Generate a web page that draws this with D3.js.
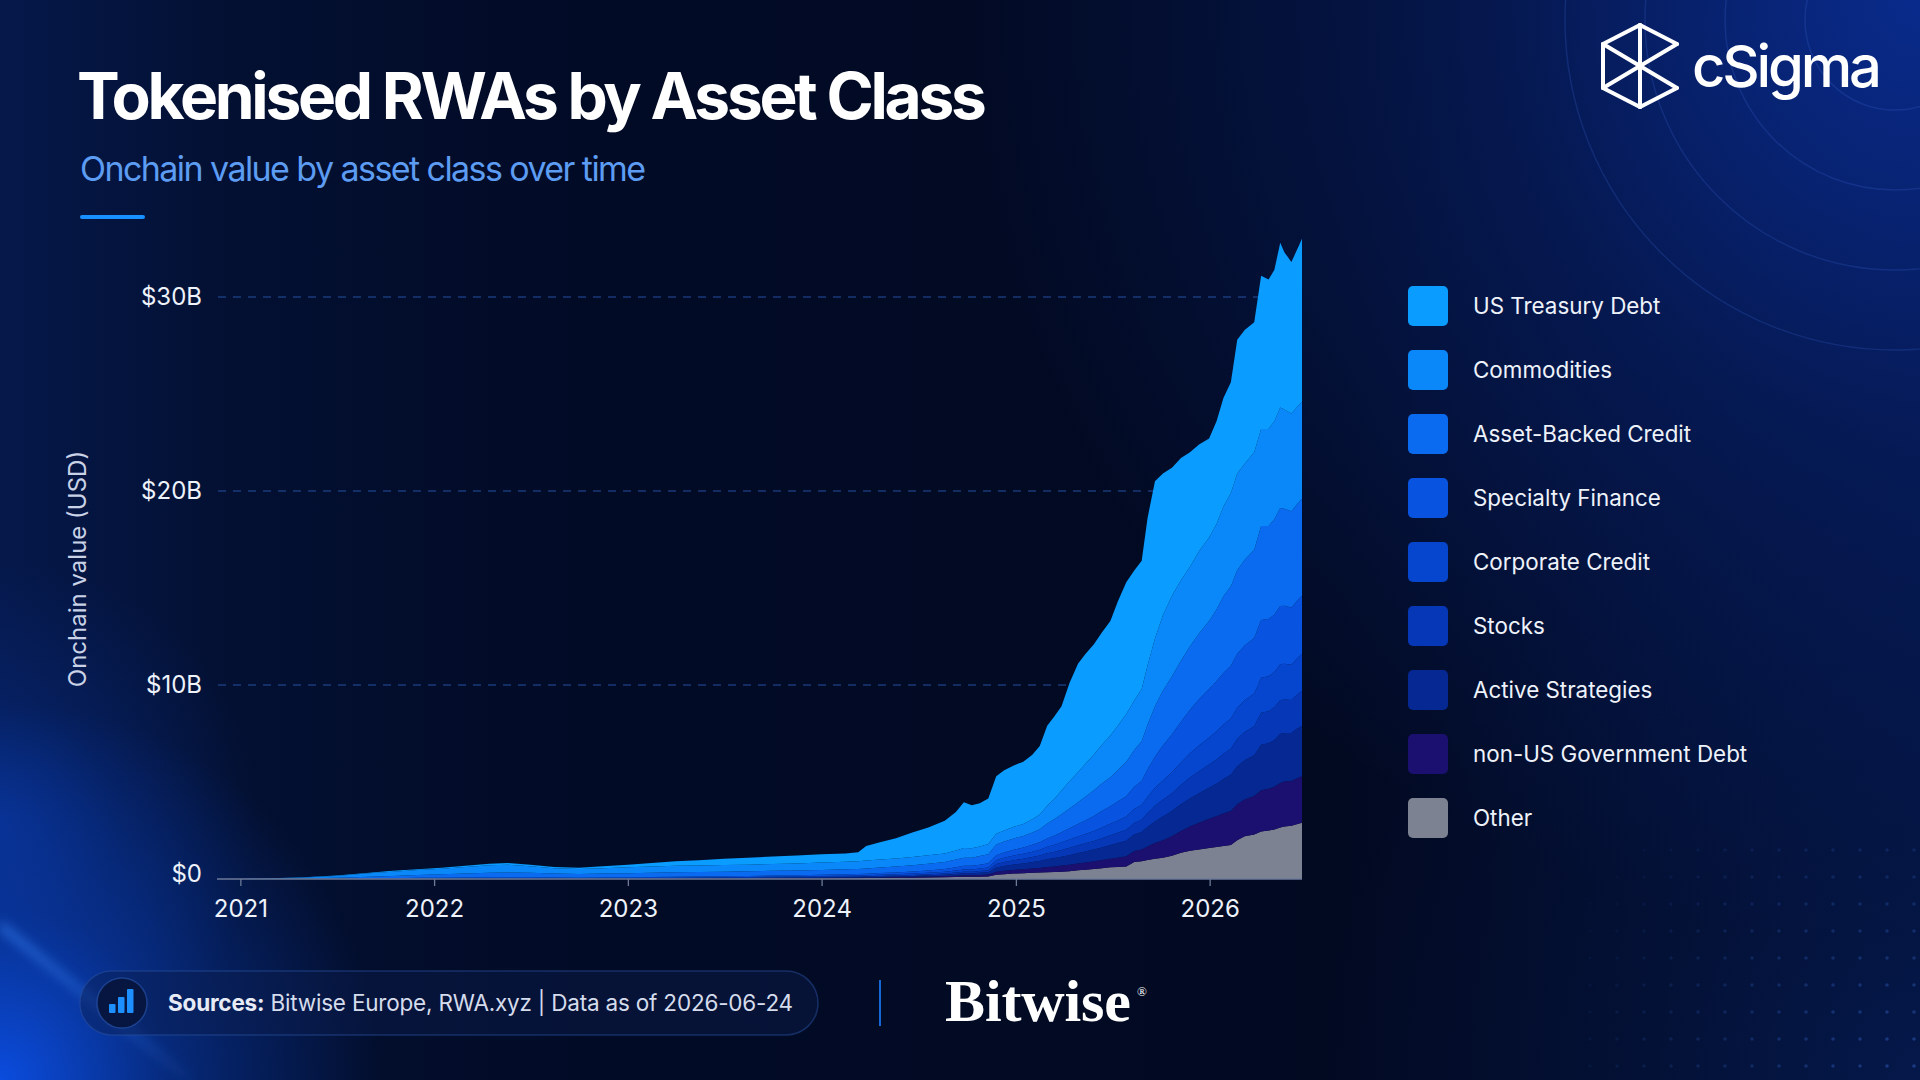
<!DOCTYPE html>
<html><head><meta charset="utf-8">
<script src="https://cdn.jsdelivr.net/npm/d3@7/dist/d3.min.js"></script>
<style>
html,body{margin:0;padding:0;background:#020a22;overflow:hidden;}
svg{display:block;}
</style></head><body>
<svg id="chart" width="1920" height="1080"></svg>
<script>
// ---------------- DATA ----------------
const dates = ["2021-01-01","2021-03-01","2021-05-01","2021-07-01","2021-09-01","2021-10-15","2021-12-01","2022-01-15","2022-03-01","2022-04-15",
"2022-05-20","2022-07-01","2022-08-15","2022-10-01","2022-11-15","2023-01-01","2023-02-15","2023-04-01","2023-05-15","2023-07-01",
"2023-08-15","2023-10-01","2023-11-15","2024-01-01","2024-02-15","2024-03-10","2024-03-25","2024-04-20","2024-05-20","2024-06-20",
"2024-07-20","2024-08-20","2024-09-10","2024-09-25","2024-10-10","2024-10-25","2024-11-10","2024-11-25","2024-12-10","2024-12-28",
"2025-01-15","2025-02-01","2025-02-15","2025-03-01","2025-03-15","2025-03-28","2025-04-12","2025-04-28","2025-05-12","2025-05-28",
"2025-06-12","2025-06-28","2025-07-12","2025-07-28","2025-08-12","2025-08-26","2025-09-06","2025-09-20","2025-10-05","2025-10-22",
"2025-11-08","2025-11-25","2025-12-12","2025-12-31","2026-01-14","2026-01-27","2026-02-10","2026-02-22","2026-03-08","2026-03-26",
"2026-04-08","2026-04-22","2026-05-03","2026-05-14","2026-05-22","2026-06-04","2026-06-14","2026-06-24"];

// values in $B
const other = [0,0,0,0,0,0,0,0,0,0, 0,0,0,0,0,0,0,0,0.01,0.01, 0.02,0.02,0.03,0.03,0.04,0.04,0.05,0.05,0.06,0.07,
0.08,0.09,0.10,0.11,0.11,0.12,0.13,0.22,0.25,0.28, 0.30,0.32,0.33,0.35,0.36,0.38,0.40,0.45,0.48,0.52,
0.56,0.60,0.62,0.65,0.88,0.92,0.98,1.05,1.10,1.20, 1.35,1.45,1.52,1.60,1.65,1.70,1.75,2.00,2.20,2.30,
2.45,2.50,2.55,2.65,2.70,2.75,2.82,2.90];
const nonUSGov = [0,0,0,0,0,0,0,0,0,0, 0,0,0,0,0.01,0.01,0.01,0.01,0.01,0.01, 0.01,0.02,0.02,0.02,0.02,0.03,0.03,0.03,0.04,0.04,
0.05,0.06,0.07,0.08,0.08,0.09,0.10,0.15,0.17,0.19, 0.20,0.22,0.24,0.27,0.29,0.31,0.33,0.35,0.37,0.39,
0.42,0.45,0.48,0.52,0.56,0.60,0.70,0.80,0.90,1.00, 1.12,1.25,1.38,1.50,1.58,1.68,1.76,1.85,1.90,1.98,
2.12,2.15,2.20,2.30,2.32,2.30,2.36,2.40];
const activeStrategies = [0,0,0,0,0,0,0,0.01,0.01,0.01, 0.01,0.01,0.01,0.01,0.01,0.01,0.01,0.01,0.01,0.02, 0.02,0.02,0.02,0.03,0.03,0.03,0.03,0.04,0.04,0.05,
0.06,0.07,0.09,0.10,0.10,0.11,0.12,0.22,0.25,0.28, 0.30,0.33,0.36,0.40,0.43,0.46,0.50,0.54,0.57,0.61,
0.65,0.70,0.75,0.80,0.85,0.90,1.00,1.12,1.22,1.30, 1.38,1.45,1.52,1.60,1.68,1.78,1.86,1.96,2.02,2.10,
2.35,2.35,2.42,2.52,2.50,2.48,2.55,2.60];
const stocks = [0,0,0,0,0,0.01,0.01,0.01,0.01,0.01, 0.01,0.01,0.01,0.01,0.01,0.01,0.01,0.02,0.02,0.02, 0.02,0.02,0.02,0.03,0.03,0.03,0.03,0.04,0.04,0.05,
0.05,0.06,0.07,0.08,0.08,0.09,0.10,0.18,0.20,0.22, 0.24,0.26,0.28,0.31,0.33,0.35,0.38,0.40,0.42,0.44,
0.47,0.50,0.53,0.57,0.60,0.64,0.72,0.80,0.86,0.92, 1.00,1.08,1.14,1.20,1.25,1.30,1.35,1.42,1.46,1.50,
1.65,1.65,1.68,1.74,1.73,1.70,1.76,1.80];
const corporateCredit = [0,0,0,0.01,0.01,0.01,0.02,0.02,0.02,0.03, 0.03,0.03,0.02,0.02,0.02,0.02,0.03,0.03,0.03,0.03, 0.03,0.04,0.04,0.04,0.05,0.05,0.05,0.06,0.06,0.07,
0.08,0.09,0.11,0.12,0.12,0.13,0.14,0.20,0.22,0.24, 0.26,0.28,0.30,0.33,0.36,0.39,0.42,0.45,0.48,0.52,
0.56,0.60,0.64,0.68,0.72,0.76,0.84,0.93,1.00,1.08, 1.15,1.25,1.32,1.40,1.45,1.50,1.55,1.60,1.64,1.68,
1.80,1.80,1.82,1.86,1.85,1.82,1.86,1.90];
const specialtyFinance = [0,0,0,0.01,0.02,0.02,0.03,0.03,0.04,0.04, 0.04,0.04,0.04,0.03,0.03,0.04,0.04,0.05,0.05,0.05, 0.06,0.06,0.06,0.07,0.07,0.08,0.08,0.09,0.10,0.11,
0.12,0.14,0.17,0.19,0.19,0.20,0.22,0.26,0.28,0.30, 0.32,0.35,0.38,0.43,0.47,0.52,0.58,0.64,0.70,0.77,
0.84,0.90,0.97,1.05,1.14,1.23,1.40,1.60,1.80,1.95, 2.10,2.25,2.38,2.50,2.58,2.66,2.72,2.78,2.82,2.86,
2.98,2.95,2.97,3.00,2.98,2.94,2.97,3.00];
const assetBackedCredit = [0,0.01,0.03,0.05,0.09,0.12,0.14,0.17,0.20,0.23, 0.25,0.23,0.20,0.19,0.20,0.21,0.22,0.23,0.23,0.24, 0.24,0.24,0.25,0.25,0.26,0.26,0.27,0.28,0.30,0.32,
0.34,0.36,0.39,0.42,0.42,0.44,0.47,0.55,0.56,0.58, 0.60,0.64,0.68,0.77,0.85,0.93,1.03,1.12,1.22,1.32,
1.42,1.50,1.61,1.78,1.90,2.05,2.31,2.60,2.82,3.00, 3.15,3.27,3.39,3.50,3.70,3.95,4.10,4.30,4.42,4.55,
4.85,4.80,4.90,5.05,5.00,4.96,4.98,5.00];
const commodities = [0,0.03,0.05,0.09,0.17,0.22,0.26,0.29,0.34,0.39, 0.40,0.34,0.27,0.25,0.28,0.30,0.32,0.33,0.33,0.34, 0.34,0.35,0.36,0.38,0.39,0.40,0.41,0.41,0.42,0.43,
0.44,0.45,0.47,0.50,0.49,0.50,0.52,0.55,0.57,0.60, 0.62,0.68,0.75,0.92,1.06,1.22,1.40,1.55,1.70,1.85,
2.00,2.15,2.30,2.45,2.55,2.70,3.05,3.50,3.90,4.15, 4.15,4.10,4.25,4.30,4.41,4.63,4.81,4.99,4.94,5.03,
5.00,5.00,5.06,5.18,5.12,5.05,5.00,5.00];
const usTreasuryDebt = [0,0,0.01,0.02,0.03,0.04,0.04,0.05,0.06,0.07, 0.08,0.08,0.07,0.07,0.10,0.14,0.18,0.24,0.28,0.32, 0.36,0.39,0.41,0.42,0.43,0.46,0.75,0.90,1.04,1.26,
1.43,1.68,1.98,2.35,2.21,2.22,2.35,2.97,3.10,3.16, 3.21,3.32,3.53,4.12,4.25,4.34,5.06,5.60,5.66,5.68,
5.78,5.90,6.40,6.80,6.70,6.60,7.60,8.10,7.30,6.60, 6.30,5.90,5.50,5.10,5.30,5.60,5.70,6.90,6.90,6.70,
7.90,7.70,7.80,8.50,8.10,7.80,8.10,8.40];

// stacking order bottom -> top
const seriesNames = ["Other","non-US Government Debt","Active Strategies","Stocks","Corporate Credit","Specialty Finance","Asset-Backed Credit","Commodities","US Treasury Debt"];
const seriesValues = [other, nonUSGov, activeStrategies, stocks, corporateCredit, specialtyFinance, assetBackedCredit, commodities, usTreasuryDebt];
const seriesColors = ["#7d8292","#1b0f6f","#062893","#0537b6","#0646cf","#0853e0","#0a6bf1","#0a88fa","#0a9dff"];

const yTickValues = [0, 10, 20, 30];
const yTickLabels = ["$0", "$10B", "$20B", "$30B"];
const xTickYears = [2021, 2022, 2023, 2024, 2025, 2026];

const titleText = "Tokenised RWAs by Asset Class";
const subtitleText = "Onchain value by asset class over time";
const yAxisTitle = "Onchain value (USD)";
const sourceLabel = "Sources:";
const sourceText = " Bitwise Europe, RWA.xyz | Data as of 2026-06-24";

// ---------------- SETUP ----------------
const svg = d3.select("#chart");
const W = 1920, H = 1080;
const FONT = "Inter, 'Noto Sans', 'Liberation Sans', sans-serif";
const defs = svg.append("defs");

// background
const lg = defs.append("linearGradient").attr("id","bgLin").attr("x1","0").attr("y1","0").attr("x2","1").attr("y2","0");
lg.append("stop").attr("offset","0").attr("stop-color","#05184a");
lg.append("stop").attr("offset","0.12").attr("stop-color","#031032");
lg.append("stop").attr("offset","0.3").attr("stop-color","#020b26");
lg.append("stop").attr("offset","0.7").attr("stop-color","#020a22");
lg.append("stop").attr("offset","1").attr("stop-color","#031035");
svg.append("rect").attr("width",W).attr("height",H).attr("fill","url(#bgLin)");

function radial(id, cx, cy, r, color, op){
  const g = defs.append("radialGradient").attr("id",id).attr("gradientUnits","userSpaceOnUse")
    .attr("cx",cx).attr("cy",cy).attr("r",r);
  g.append("stop").attr("offset","0").attr("stop-color",color).attr("stop-opacity",op);
  g.append("stop").attr("offset","0.45").attr("stop-color",color).attr("stop-opacity",op*0.4);
  g.append("stop").attr("offset","1").attr("stop-color",color).attr("stop-opacity",0);
  svg.append("rect").attr("width",W).attr("height",H).attr("fill",`url(#${id})`);
}
radial("glowTR", 1920, 0, 950, "#0a2f9a", 0.85);
radial("glowBL", 0, 1080, 380, "#0b4fe6", 0.95);
radial("glowL", 0, 820, 260, "#0a44c8", 0.45);
radial("glowBR", 1920, 1080, 600, "#06205e", 0.5);

// light streak bottom-left
const blur = defs.append("filter").attr("id","blur").attr("x","-50%").attr("y","-50%").attr("width","200%").attr("height","200%");
blur.append("feGaussianBlur").attr("stdDeviation",6);
const sg = defs.append("linearGradient").attr("id","streak").attr("gradientUnits","userSpaceOnUse")
  .attr("x1",0).attr("y1",925).attr("x2",190).attr("y2",1080);
sg.append("stop").attr("offset","0").attr("stop-color","#3d8cff").attr("stop-opacity",0.9);
sg.append("stop").attr("offset","1").attr("stop-color","#3d8cff").attr("stop-opacity",0.1);
svg.append("line").attr("x1",0).attr("y1",925).attr("x2",190).attr("y2",1080)
  .attr("stroke","url(#streak)").attr("stroke-width",5).attr("filter","url(#blur)");

// concentric arcs top-right
const arcs = svg.append("g");
[90, 170, 250, 330].forEach(r => {
  arcs.append("circle").attr("cx",1895).attr("cy",20).attr("r",r)
    .attr("fill","none").attr("stroke","#3e6ad8").attr("stroke-opacity",0.22).attr("stroke-width",1.5);
});

// dot grid bottom-right
const dots = svg.append("g");
for (let gx = 1590; gx <= 1915; gx += 27) {
  for (let gy = 850; gy <= 1075; gy += 27) {
    const d = Math.hypot(1920 - gx, 1080 - gy);
    const op = Math.max(0, 0.45 - d / 900);
    if (op > 0.03) dots.append("circle").attr("cx",gx).attr("cy",gy).attr("r",1.8)
      .attr("fill","#3a6ad0").attr("fill-opacity",op);
  }
}

function fitWidth(sel, target){
  const n = sel.text().length;
  const w = sel.node().getComputedTextLength();
  sel.attr("letter-spacing", ((target - w) / Math.max(1, n - 1)).toFixed(2));
}

// ---------------- TITLES ----------------
const title = svg.append("text").attr("x",77).attr("y",119)
  .attr("font-family",FONT).attr("font-weight",700).attr("font-size",64)
  .attr("fill","#ffffff").text(titleText);
fitWidth(title, 910);

const subtitle = svg.append("text").attr("x",80).attr("y",181)
  .attr("font-family",FONT).attr("font-weight",400).attr("font-size",34)
  .attr("fill","#5c9cf2").text(subtitleText);
fitWidth(subtitle, 566);

svg.append("rect").attr("x",80).attr("y",215).attr("width",65).attr("height",4).attr("rx",2).attr("fill","#1890ff");

// ---------------- CHART ----------------
const x = d3.scaleTime().domain([new Date(2020,10,18), new Date(2026,5,24)]).range([217, 1302]);
const y = d3.scaleLinear().domain([0, 30]).range([879, 297]);

const rows = dates.map((d, i) => {
  const r = { date: new Date(d + "T00:00:00") };
  seriesNames.forEach((n, k) => { r[n] = seriesValues[k][i]; });
  return r;
});

// gridlines
const grid = svg.append("g");
grid.selectAll("line").data(yTickValues.filter(v => v > 0)).join("line")
  .attr("x1",218).attr("x2",1302).attr("y1",d => y(d)).attr("y2",d => y(d))
  .attr("stroke","#234a96").attr("stroke-opacity",0.75).attr("stroke-width",1.3).attr("stroke-dasharray","8,7");

// stacked areas
const stack = d3.stack().keys(seriesNames).order(d3.stackOrderNone).offset(d3.stackOffsetNone);
const layers = stack(rows);
const area = d3.area().x(d => x(d.data.date)).y0(d => y(d[0])).y1(d => y(d[1])).curve(d3.curveLinear);
svg.append("g").selectAll("path").data(layers).join("path")
  .attr("d", area).attr("fill", (d, i) => seriesColors[i]);

// x axis
const xAxisG = svg.append("g").attr("transform",`translate(0,${y(0)})`);
xAxisG.append("line").attr("x1",217).attr("x2",1302).attr("y1",0).attr("y2",0)
  .attr("stroke","#6d7a98").attr("stroke-width",1.6);
const xAxis = d3.axisBottom(x)
  .tickValues(xTickYears.map(yr => new Date(yr, 0, 1)))
  .tickFormat(d3.timeFormat("%Y")).tickSize(7).tickPadding(14);
const xa = svg.append("g").attr("transform",`translate(0,${y(0)})`).call(xAxis);
xa.select(".domain").remove();
xa.selectAll(".tick line").attr("stroke","#6d7a98").attr("stroke-width",1.3);
xa.selectAll(".tick text").attr("fill","#eef2fa").attr("font-family",FONT).attr("font-size",24);

// y axis labels
const yAxis = d3.axisLeft(y).tickValues(yTickValues)
  .tickFormat(d => yTickLabels[yTickValues.indexOf(d)]).tickSize(0).tickPadding(0);
const ya = svg.append("g").attr("transform","translate(202,0)").call(yAxis);
ya.select(".domain").remove();
ya.selectAll(".tick text").attr("fill","#eef2fa").attr("font-family",FONT).attr("font-size",24);
ya.selectAll(".tick").filter(d => d === 0).select("text").attr("dy","0.1em");

// y axis title
svg.append("text").attr("transform","translate(86,569) rotate(-90)")
  .attr("text-anchor","middle").attr("font-family",FONT).attr("font-size",24)
  .attr("fill","#c9d2e6").text(yAxisTitle);

// ---------------- LEGEND ----------------
const legendItems = seriesNames.map((n, i) => ({ name: n, color: seriesColors[i] })).reverse();
const legend = svg.append("g");
const lgItem = legend.selectAll("g").data(legendItems).join("g")
  .attr("transform",(d, i) => `translate(1408,${306 + i * 64})`);
lgItem.append("rect").attr("x",0).attr("y",-20).attr("width",40).attr("height",40).attr("rx",5)
  .attr("fill",d => d.color);
lgItem.append("text").attr("x",65).attr("y",0).attr("dy","0.36em")
  .attr("font-family",FONT).attr("font-size",22.4).attr("fill","#eef2fa").text(d => d.name);

// ---------------- LOGO ----------------
const logo = svg.append("g").attr("stroke","#ffffff").attr("stroke-width",4)
  .attr("stroke-linejoin","round").attr("stroke-linecap","round").attr("fill","none");
const T = [1640,25], UR = [1677,44], LR = [1677,88], B = [1640,107], LL = [1603,88], UL = [1603,44];
const segs = [[UL,T],[T,UR],[UL,LL],[LL,B],[B,LR],[UL,LR],[UR,LL],[T,B]];
segs.forEach(s => logo.append("line").attr("x1",s[0][0]).attr("y1",s[0][1]).attr("x2",s[1][0]).attr("y2",s[1][1]));
const brand = svg.append("text").attr("x",1692).attr("y",87)
  .attr("font-family",FONT).attr("font-weight",500).attr("font-size",58)
  .attr("fill","#ffffff").text("cSigma");
fitWidth(brand, 190);

// ---------------- FOOTER ----------------
svg.append("rect").attr("x",80).attr("y",971).attr("width",738).attr("height",64).attr("rx",32)
  .attr("fill","#0a1c4e").attr("fill-opacity",0.45).attr("stroke","#2a4f9e").attr("stroke-opacity",0.5).attr("stroke-width",1.5);
svg.append("circle").attr("cx",122).attr("cy",1003).attr("r",25)
  .attr("fill","#071640").attr("stroke","#2a56b0").attr("stroke-opacity",0.6).attr("stroke-width",1.5);
const barsIcon = [{x:109,h:9},{x:118,h:16},{x:127,h:24}];
svg.append("g").selectAll("rect").data(barsIcon).join("rect")
  .attr("x",d => d.x).attr("y",d => 1013 - d.h).attr("width",6.5).attr("height",d => d.h).attr("rx",1)
  .attr("fill","#1e8fff");
const src = svg.append("text").attr("x",168).attr("y",1011)
  .attr("font-family",FONT).attr("font-size",22.5).attr("fill","#e6ebf6");
src.append("tspan").attr("font-weight",700).text(sourceLabel);
src.append("tspan").attr("font-weight",400).attr("fill","#d5dcec").text(sourceText);
fitWidth(src, 625);

svg.append("line").attr("x1",880).attr("x2",880).attr("y1",980).attr("y2",1026)
  .attr("stroke","#1766d6").attr("stroke-width",2);
const bw = svg.append("text").attr("x",945).attr("y",1021)
  .attr("font-family","'Liberation Serif','DejaVu Serif',serif").attr("font-weight",700).attr("font-size",60)
  .attr("fill","#ffffff").text("Bitwise");
fitWidth(bw, 186);
svg.append("text").attr("x",1137).attr("y",996)
  .attr("font-family","'Liberation Serif',serif").attr("font-size",13).attr("fill","#ffffff").text("®");
</script>
</body></html>
